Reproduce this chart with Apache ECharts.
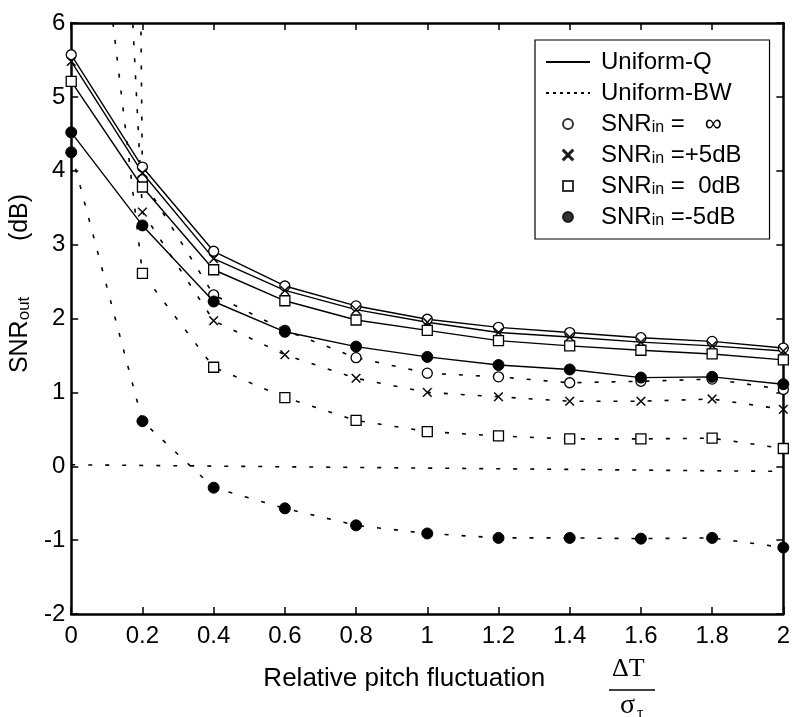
<!DOCTYPE html>
<html>
<head>
<meta charset="utf-8">
<script src="https://cdn.jsdelivr.net/npm/echarts@6/dist/echarts.min.js"></script>
<style>
html, body { margin: 0; padding: 0; background: #fff; }
#chart { width: 793px; height: 717px; }
</style>
</head>
<body>
<div id="chart"></div>
<script>
// relative pitch fluctuation (x)
var xValues = [0, 0.2, 0.4, 0.6, 0.8, 1.0, 1.2, 1.4, 1.6, 1.8, 2.0];

// Uniform-Q (solid)
var qInf   = [5.57, 4.05, 2.91, 2.44, 2.17, 1.99, 1.88, 1.81, 1.74, 1.69, 1.60];
var qPlus5 = [5.48, 3.97, 2.81, 2.38, 2.12, 1.95, 1.81, 1.75, 1.68, 1.63, 1.56];
var qZero  = [5.21, 3.78, 2.66, 2.24, 1.98, 1.84, 1.70, 1.63, 1.57, 1.52, 1.44];
var qMin5  = [4.52, 3.26, 2.23, 1.82, 1.62, 1.48, 1.37, 1.31, 1.20, 1.21, 1.11];

// Uniform-BW (dotted), first values are off the top of the chart
var bwInf   = [100, 3.88, 2.32, 1.84, 1.47, 1.26, 1.21, 1.13, 1.15, 1.18, 1.04];
var bwPlus5 = [22.3, 3.44, 1.97, 1.51, 1.19, 1.00, 0.94, 0.88, 0.88, 0.91, 0.77];
var bwZero  = [10.8, 2.61, 1.34, 0.93, 0.62, 0.47, 0.41, 0.37, 0.37, 0.38, 0.24];
var bwMin5  = [4.25, 0.61, -0.29, -0.57, -0.80, -0.91, -0.97, -0.97, -0.98, -0.97, -1.10];

// reference line near 0 dB
var zeroLineX = [0, 2];
var zeroLineY = [0.02, -0.07];

var xTicks = ['0', '0.2', '0.4', '0.6', '0.8', '1', '1.2', '1.4', '1.6', '1.8', '2'];

var FONT = 'Liberation Sans';
var crossPath = 'path://M0,0.8 L0.8,0 L5,4.2 L9.2,0 L10,0.8 L5.8,5 L10,9.2 L9.2,10 L5,5.8 L0.8,10 L0,9.2 L4.2,5 Z';
var squarePath = 'path://M0,0 L10,0 L10,10 L0,10 Z';

function pairs(ys, xs) {
	xs = xs || xValues;
	var out = [];
	for (var i = 0; i < ys.length; i++) {
		out.push([xs[i], ys[i]]);
	}
	return out;
}

var markerStyle = {
	inf:   { symbol: 'circle', symbolSize: 10, fill: '#fff', border: 1.3 },
	plus5: { symbol: crossPath, symbolSize: 9, fill: '#000', border: 0.6 },
	zero:  { symbol: squarePath, symbolSize: 10, fill: '#fff', border: 1.3 },
	min5:  { symbol: 'circle', symbolSize: 11, fill: '#000', border: 1 }
};

function curve(name, ys, key, dotted) {
	var m = markerStyle[key];
	return {
		name: name,
		type: 'line',
		data: pairs(ys),
		symbol: m.symbol,
		symbolSize: m.symbolSize,
		symbolKeepAspect: true,
		showAllSymbol: true,
		clip: true,
		lineStyle: {
			color: '#000',
			width: dotted ? 1.6 : 1.4,
			type: dotted ? [4, 13] : 'solid'
		},
		itemStyle: { color: m.fill, borderColor: '#000', borderWidth: m.border },
		z: dotted ? 2 : 3
	};
}

var legendNames = {
	'Uniform-Q': 'Uniform-Q',
	'Uniform-BW': 'Uniform-BW',
	'mInf': 'SNR{s|in} =   \u221E',
	'mPlus5': 'SNR{s|in} =+5dB',
	'mZero': 'SNR{s|in} =  0dB',
	'mMin5': 'SNR{s|in} =-5dB'
};

function legendMarker(name, key) {
	var m = markerStyle[key];
	return {
		name: name,
		type: 'scatter',
		data: [],
		symbol: m.symbol,
		symbolKeepAspect: true,
		itemStyle: { color: m.fill, borderColor: '#000', borderWidth: m.border > 1 ? 1.1 : m.border }
	};
}

function legendLine(name, dash) {
	return {
		name: name,
		type: 'line',
		data: [],
		symbol: 'none',
		itemStyle: { color: '#000', opacity: 0 },
		lineStyle: { color: '#000', width: 1.5, type: dash }
	};
}

var chart = echarts.init(document.getElementById('chart'));
chart.setOption({
	animation: false,
	backgroundColor: '#fff',
	grid: { left: 68, right: 9, top: 23, bottom: 103 },
	legend: {
		orient: 'vertical',
		left: 535,
		top: 40,
		data: ['Uniform-Q', 'Uniform-BW', 'mInf', 'mPlus5', 'mZero', 'mMin5'],
		itemWidth: 44,
		itemHeight: 10,
		itemGap: 7,
		padding: [10, 28, 10, 10],
		borderColor: '#000',
		borderWidth: 1.2,
		backgroundColor: '#fff',
		selectedMode: false,
		formatter: function (name) { return legendNames[name]; },
		textStyle: {
			fontFamily: FONT,
			fontSize: 24,
			color: '#000',
			padding: [0, 0, 0, 6],
			rich: {
				s: { fontFamily: FONT, fontSize: 16, color: '#000', verticalAlign: 'bottom', lineHeight: 14 }
			}
		}
	},
	xAxis: [{
		type: 'value',
		min: 0,
		max: 2,
		interval: 0.2,
		name: 'Relative pitch fluctuation',
		nameLocation: 'middle',
		nameGap: 52,
		nameTextStyle: { fontFamily: FONT, fontSize: 26, color: '#000', padding: [0, 46, 0, 0] },
		axisLine: { onZero: false, lineStyle: { color: '#000', width: 2.5 } },
		axisTick: { inside: true, length: 7, lineStyle: { color: '#000', width: 1.5 } },
		axisLabel: {
			fontFamily: FONT, fontSize: 24, color: '#000', margin: 10,
			formatter: function (v) { return xTicks[Math.round(v / 0.2)]; }
		},
		splitLine: { show: false }
	}, {
		type: 'value',
		position: 'top',
		min: 0,
		max: 2,
		interval: 0.2,
		axisLine: { onZero: false, lineStyle: { color: '#000', width: 2.5 } },
		axisTick: { inside: true, length: 7, lineStyle: { color: '#000', width: 1.5 } },
		axisLabel: { show: false },
		splitLine: { show: false }
	}],
	yAxis: [{
		type: 'value',
		min: -2,
		max: 6,
		interval: 1,
		name: 'SNR{s|out}        (dB)',
		nameLocation: 'middle',
		nameRotate: 90,
		nameGap: 30,
		nameTextStyle: {
			fontFamily: FONT, fontSize: 25, color: '#000', padding: [0, 0, 0, 70],
			rich: { s: { fontFamily: FONT, fontSize: 17, color: '#000', verticalAlign: 'bottom', lineHeight: 14 } }
		},
		axisLine: { onZero: false, lineStyle: { color: '#000', width: 2.5 } },
		axisTick: { inside: true, length: 7, lineStyle: { color: '#000', width: 1.5 } },
		axisLabel: { fontFamily: FONT, fontSize: 24, color: '#000', margin: 6 },
		splitLine: { show: false }
	}, {
		type: 'value',
		position: 'right',
		min: -2,
		max: 6,
		interval: 1,
		axisLine: { onZero: false, lineStyle: { color: '#000', width: 2.5 } },
		axisTick: { inside: true, length: 7, lineStyle: { color: '#000', width: 1.5 } },
		axisLabel: { show: false },
		splitLine: { show: false }
	}],
	graphic: [
		{ type: 'text', left: 612, top: 656, style: { text: '\u0394T', font: '26px "Liberation Serif"', fill: '#000' } },
		{ type: 'line', shape: { x1: 609, y1: 690, x2: 655, y2: 690 }, style: { stroke: '#000', lineWidth: 1.5 } },
		{ type: 'text', left: 620, top: 692, style: { text: '\u03C3', font: '28px "Liberation Serif"', fill: '#000' } },
		{ type: 'text', left: 637, top: 706, style: { text: '\u03C4', font: '16px "Liberation Serif"', fill: '#000' } }
	],
	series: [
		curve('qInf', qInf, 'inf', false),
		curve('qPlus5', qPlus5, 'plus5', false),
		curve('qZero', qZero, 'zero', false),
		curve('qMin5', qMin5, 'min5', false),
		curve('bwInf', bwInf, 'inf', true),
		curve('bwPlus5', bwPlus5, 'plus5', true),
		curve('bwZero', bwZero, 'zero', true),
		curve('bwMin5', bwMin5, 'min5', true),
		{
			name: 'zeroLine',
			type: 'line',
			data: pairs(zeroLineY, zeroLineX),
			symbol: 'none',
			lineStyle: { color: '#000', width: 1.6, type: [4, 13] }
		},
		legendLine('Uniform-Q', 'solid'),
		legendLine('Uniform-BW', [3, 4]),
		legendMarker('mInf', 'inf'),
		legendMarker('mPlus5', 'plus5'),
		legendMarker('mZero', 'zero'),
		legendMarker('mMin5', 'min5')
	]
});
</script>
</body>
</html>
